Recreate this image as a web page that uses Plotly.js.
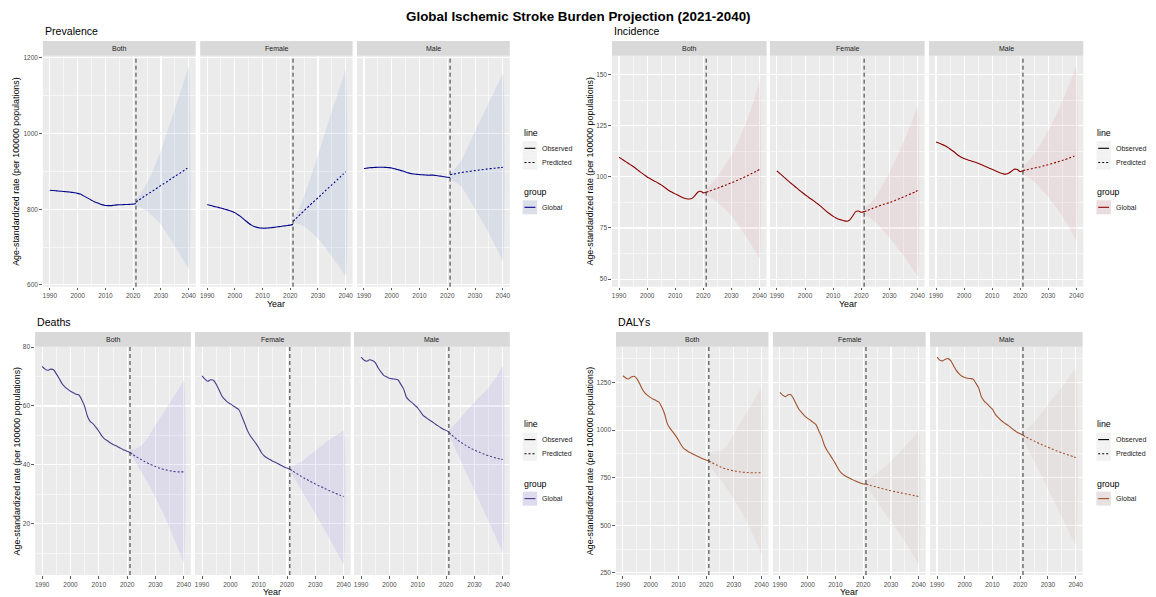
<!DOCTYPE html>
<html><head><meta charset="utf-8">
<script src="https://cdn.plot.ly/plotly-3.0.1.min.js"></script>
<style>html,body{margin:0;padding:0;background:#fff;}#chart{width:1156px;height:597px;}</style>
</head><body><div id="chart"></div>
<script>
// ---------- data ----------
const mainTitle = 'Global Ischemic Stroke Burden Projection (2021-2040)';
const yAxisTitle = 'Age-standardized rate (per 100000 populations)';
const xAxisTitle = 'Year';
const facets = ['Both', 'Female', 'Male'];
const measures = ['Prevalence', 'Incidence', 'Deaths', 'DALYs'];
const lineLabels = ['Observed', 'Predicted'];
const groupLabel = 'Global';
const forecastStart = 2021;
const yearsObs = [1990,1991,1992,1993,1994,1995,1996,1997,1998,1999,2000,2001,2002,2003,2004,2005,2006,2007,2008,2009,2010,2011,2012,2013,2014,2015,2016,2017,2018,2019,2020,2021];
const yearsPred = [2021,2022,2023,2024,2025,2026,2027,2028,2029,2030,2031,2032,2033,2034,2035,2036,2037,2038,2039,2040];

// Prevalence
const prevBothObs = [850,849.5,849,848,847.5,847,846,845.5,844.5,843.5,842,840,836,832,828,824,820,817,814,811.5,810,809.5,809.5,810.5,811.5,812,812,812.5,812.5,813,813.5,815];
const prevBothPred = [819,824,829,834,839,843.5,848,853,858,863,867.5,872,877,882,887,891.5,896,901,906,911];
const prevBothHi = [828,836,845,856,869,884,901,919,937,956,978,1000,1022,1044,1066,1088,1110,1132,1155,1178];
const prevBothLo = [808,806,803,799,795,789,782,775,767,758,748,737,726,714,702,690,678,666,654,642];
const prevFemObs = [812,810.5,808.5,806.5,805,803,801,799,796.5,794,791,786,781,775,769,763,758,754.5,752,750.5,750,750,750.5,751,752,753,754,755,756,757,758,760];
const prevFemPred = [768,775,782,789,796,803,810,817,823.5,830,837,844,851,858,864.5,871,878,885,892,899];
const prevFemHi = [775,786,799,815,835,856,877,898,920,943,966,989,1012,1035,1058,1080,1102,1125,1147,1170];
const prevFemLo = [763,762,760,758,754,749,743,736,729,722,714,705,695,685,675,665,655,645,634,623];
const prevMaleObs = [907.5,908.5,909.5,910,910.5,911,911,911,910.5,910,909,907,905,903,901,898.5,896,894,893,892,891.5,891,890.5,890,890,890,889,888,887,886,884.5,884];
const prevMalePred = [891,892.5,894,895.5,897,898,899,900,901,902,903,904,905,906,906.8,907.6,908.4,909.2,910.1,911];
const prevMaleHi = [895,901,909,918,928,943,958,974,990,1007,1022,1037,1052,1067,1082,1097,1112,1128,1143,1159];
const prevMaleLo = [880,876,871,866,860,850,838,826,813,800,788,775,762,749,736,722,707,692,678,663];

// Incidence
const incBothObs = [109.6,108.7,107.8,106.9,106.0,105.1,104.1,103.0,102.0,101.0,100.0,99.2,98.4,97.7,96.9,96.1,95.1,94.1,93.1,92.4,91.7,91.0,90.3,89.7,89.3,89.2,89.5,90.8,92.5,93.0,92.2,92.5];
const incBothPred = [92.5,93.0,93.5,94.0,94.5,95.0,95.5,96.0,96.6,97.1,97.7,98.3,98.9,99.5,100.1,100.8,101.5,102.2,102.9,103.7];
const incBothHi = [94.5,95.5,96.8,98.3,100.0,102.0,104.1,106.3,108.4,110.5,113.4,116.4,119.5,122.7,126.0,129.6,133.5,137.7,142.5,147.5];
const incBothLo = [90.8,90.2,89.4,88.6,87.6,86.4,85.1,83.8,82.4,81.0,79.2,77.2,75.2,73.2,71.2,69.0,66.8,64.6,62.4,60.1];
const incFemObs = [102.9,101.7,100.5,99.3,98.1,96.9,95.8,94.6,93.5,92.4,91.3,90.3,89.3,88.4,87.3,86.3,85.1,83.9,82.7,81.7,80.7,79.9,79.3,78.9,78.5,78.3,79.1,81.0,83.0,83.3,82.7,83.0];
const incFemPred = [83.0,83.5,84.0,84.6,85.1,85.6,86.1,86.6,87.0,87.4,88.0,88.5,89.1,89.6,90.2,90.8,91.4,92.0,92.6,93.3];
const incFemHi = [84.3,85.5,86.9,88.4,90.0,92.2,94.6,97.0,99.6,102.3,105.1,107.9,110.8,113.9,117.0,120.3,123.8,127.3,130.9,134.6];
const incFemLo = [81.9,81.0,80.0,78.9,77.8,76.4,74.9,73.4,71.9,70.4,68.6,66.8,65.0,63.2,61.4,59.4,57.5,55.5,53.5,51.4];
const incMaleObs = [117.1,116.6,116.0,115.4,114.6,113.7,112.7,111.6,110.5,109.6,109.0,108.5,108.0,107.6,107.2,106.7,106.1,105.5,104.9,104.3,103.7,103.1,102.5,101.9,101.5,101.4,101.9,102.9,103.8,103.6,102.6,103.0];
const incMalePred = [103.1,103.4,103.7,104.0,104.3,104.6,104.9,105.3,105.6,106.0,106.4,106.8,107.2,107.6,108.0,108.5,109.0,109.5,110.0,110.6];
const incMaleHi = [105.0,106.3,107.8,109.5,111.3,113.4,115.6,117.9,120.3,122.8,125.4,128.1,130.9,133.9,137.0,140.3,143.7,147.1,150.6,154.2];
const incMaleLo = [101.3,100.5,99.6,98.6,97.5,96.2,94.8,93.3,91.8,90.2,88.5,86.7,84.8,82.8,80.8,78.7,76.6,74.0,71.3,68.5];

// Deaths
const deathBothObs = [73.4,72.5,72.1,72.5,72.3,70.9,69.3,67.6,66.5,65.7,65.0,64.5,64.0,63.7,62.0,59.8,56.4,54.7,53.9,52.7,51.4,49.9,48.8,48.2,47.5,46.9,46.5,46.0,45.5,45.0,44.6,44.2];
const deathBothPred = [44.2,43.5,42.9,42.3,41.8,41.2,40.7,40.2,39.8,39.4,39.0,38.7,38.4,38.2,38.0,37.8,37.7,37.6,37.6,37.6];
const deathBothHi = [45.3,45.3,45.5,45.9,46.6,47.6,48.8,50.2,51.8,53.5,55.0,56.5,58.0,59.5,61.0,62.5,64.0,65.5,67.1,68.7];
const deathBothLo = [43.5,42.2,40.8,39.2,37.5,35.9,34.3,32.6,30.8,29.0,27.0,25.0,23.0,20.8,18.5,16.2,13.9,11.5,9.0,6.6];
const deathFemObs = [70.2,69.1,68.4,68.9,68.7,67.4,65.4,63.4,62.2,61.3,60.7,60.0,59.4,58.7,56.6,54.2,51.7,49.9,48.6,47.3,45.8,44.1,43.0,42.3,41.8,41.2,40.8,40.3,39.8,39.3,38.9,38.5];
const deathFemPred = [38.5,37.9,37.3,36.7,36.1,35.5,35.0,34.5,34.0,33.5,33.0,32.6,32.1,31.7,31.2,30.8,30.4,30.0,29.6,29.2];
const deathFemHi = [39.1,39.5,40.0,40.5,41.0,41.7,42.5,43.3,44.0,44.8,45.6,46.3,47.0,47.8,48.5,49.2,49.8,50.4,51.0,51.7];
const deathFemLo = [38.0,36.4,34.8,33.2,31.5,29.9,28.3,26.7,25.1,23.5,21.8,20.1,18.4,16.7,15.0,13.3,11.5,9.7,7.9,6.1];
const deathMaleObs = [76.6,75.6,75.2,75.7,75.4,74.7,73.0,71.6,70.4,69.9,69.4,69.2,69.1,68.9,67.4,65.8,63.0,61.9,61.1,60.2,59.3,58.0,56.7,56.0,55.3,54.7,54.0,53.3,52.7,52.1,51.7,51.1];
const deathMalePred = [51.0,50.1,49.3,48.5,47.8,47.2,46.6,46.0,45.5,45.0,44.6,44.2,43.8,43.4,43.1,42.8,42.5,42.2,42.0,41.8];
const deathMaleHi = [51.9,52.7,53.6,54.6,55.8,56.9,58.0,59.1,60.2,61.3,62.3,63.2,64.2,65.2,66.2,67.5,68.8,70.2,71.9,73.6];
const deathMaleLo = [50.2,48.1,46.0,43.9,41.8,39.7,37.6,35.5,33.4,31.3,29.2,27.1,25.0,22.9,20.8,18.7,16.6,14.5,12.4,10.2];

// DALYs
const dalyBothObs = [1286,1274,1269,1279,1283,1271,1245,1215,1195,1181,1171,1162,1155,1147,1121,1086,1034,1009,991,971,948,922,903,893,883,876,869,862,855,848,843,838];
const dalyBothPred = [838,830,822,815,808,802,797,793,789,786,783,781,779,778,777,776,776,776,776,777];
const dalyBothHi = [885,885,886,887,890,897,910,930,955,983,1007,1031,1055,1079,1103,1127,1151,1175,1200,1224];
const dalyBothLo = [819,800,781,762,743,724,703,682,660,638,613,588,562,536,509,478,446,413,379,345];
const dalyFemObs = [1198,1184,1176,1186,1186,1164,1134,1107,1090,1074,1062,1052,1041,1029,997,966,922,893,871,848,824,797,776,764,755,748,741,734,728,722,717,716];
const dalyFemPred = [716,712,708,704,700,696,692,688,685,681,678,675,672,669,666,663,660,657,654,651];
const dalyFemHi = [741,748,756,765,776,787,799,811,823,836,851,866,882,898,914,930,946,963,980,997];
const dalyFemLo = [707,686,665,644,623,602,581,560,539,517,497,477,456,435,414,391,367,342,318,293];
const dalyMaleObs = [1384,1368,1364,1373,1376,1364,1337,1313,1296,1283,1277,1273,1271,1268,1247,1222,1175,1153,1139,1124,1110,1084,1067,1053,1041,1031,1021,1009,998,988,981,973];
const dalyMalePred = [973,965,957,950,943,936,929,922,916,910,904,898,892,887,881,876,871,866,861,856];
const dalyMaleHi = [990,1000,1012,1026,1042,1059,1077,1096,1115,1135,1153,1171,1189,1207,1225,1245,1265,1285,1305,1325];
const dalyMaleLo = [955,926,897,868,839,810,781,752,722,692,662,632,602,572,542,512,482,452,424,397];

// ---------- assembly ----------
const panels = [
  {name: measures[0], line: '#00008B', fill: 'rgba(100,130,190,0.13)', keyFill: 'rgba(100,130,190,0.17)', dtick: 200,
   data: {Both: {obs: prevBothObs, pred: prevBothPred, lo: prevBothLo, hi: prevBothHi},
          Female: {obs: prevFemObs, pred: prevFemPred, lo: prevFemLo, hi: prevFemHi},
          Male: {obs: prevMaleObs, pred: prevMalePred, lo: prevMaleLo, hi: prevMaleHi}}},
  {name: measures[1], line: '#8B0000', fill: 'rgba(200,100,110,0.10)', keyFill: 'rgba(200,100,110,0.14)', dtick: 25,
   data: {Both: {obs: incBothObs, pred: incBothPred, lo: incBothLo, hi: incBothHi},
          Female: {obs: incFemObs, pred: incFemPred, lo: incFemLo, hi: incFemHi},
          Male: {obs: incMaleObs, pred: incMalePred, lo: incMaleLo, hi: incMaleHi}}},
  {name: measures[2], line: '#483D8B', fill: 'rgba(120,100,220,0.12)', keyFill: 'rgba(120,100,220,0.16)', dtick: 20,
   data: {Both: {obs: deathBothObs, pred: deathBothPred, lo: deathBothLo, hi: deathBothHi},
          Female: {obs: deathFemObs, pred: deathFemPred, lo: deathFemLo, hi: deathFemHi},
          Male: {obs: deathMaleObs, pred: deathMalePred, lo: deathMaleLo, hi: deathMaleHi}}},
  {name: measures[3], line: '#A0522D', fill: 'rgba(160,110,100,0.08)', keyFill: 'rgba(160,110,100,0.12)', dtick: 250,
   data: {Both: {obs: dalyBothObs, pred: dalyBothPred, lo: dalyBothLo, hi: dalyBothHi},
          Female: {obs: dalyFemObs, pred: dalyFemPred, lo: dalyFemLo, hi: dalyFemHi},
          Male: {obs: dalyMaleObs, pred: dalyMalePred, lo: dalyMaleLo, hi: dalyMaleHi}}}
];

// layout geometry (pixels)
const W = 1156, H = 597;
const px = x => x / W;
const py = y => 1 - y / H;
const geom = [
  {fx: [[42.9,195.7],[200.2,352.6],[357.0,509.8]], y0: 55.7, y1: 286.7, s0: 41.0, tX: 42.9, tY: 31.3, ytX: 16.6, legX: 522.7, legY: 132.7, xtY: 304},
  {fx: [[612.0,766.6],[769.9,924.6],[929.0,1083.3]], y0: 55.7, y1: 286.7, s0: 41.0, tX: 612.3, tY: 31.3, ytX: 590.3, legX: 1096.4, legY: 132.7, xtY: 304},
  {fx: [[35.1,190.9],[195.0,350.7],[354.0,509.8]], y0: 346.7, y1: 575.0, s0: 332.0, tX: 35.1, tY: 322.3, ytX: 16.6, legX: 522.7, legY: 424.0, xtY: 591.5},
  {fx: [[616.0,768.5],[772.9,925.7],[930.1,1082.6]], y0: 346.7, y1: 575.0, s0: 332.0, tX: 616.0, tY: 322.3, ytX: 590.3, legX: 1096.4, legY: 424.0, xtY: 591.5}
];

const FONT = 'Liberation Sans, Arial, Helvetica, sans-serif';
const traces = [], shapes = [], annotations = [];
const layout = {
  width: W, height: H, margin: {l: 0, r: 0, t: 0, b: 0},
  paper_bgcolor: '#FFFFFF', plot_bgcolor: '#EBEBEB', showlegend: false,
  font: {family: FONT, color: '#1A1A1A'}
};

function txt(text, x, y, size, opts) {
  annotations.push(Object.assign({text: text, xref: 'paper', yref: 'paper', x: px(x), y: py(y),
    showarrow: false, xanchor: 'left', yanchor: 'middle', font: {family: FONT, size: size, color: '#1A1A1A'}}, opts || {}));
}
function rect(x0, x1, y0, y1, fill) {
  shapes.push({type: 'rect', xref: 'paper', yref: 'paper', x0: px(x0), x1: px(x1), y0: py(y1), y1: py(y0),
    fillcolor: fill, line: {width: 0}, layer: 'above'});
}
function hline(x0, x1, y, color, dash) {
  shapes.push({type: 'line', xref: 'paper', yref: 'paper', x0: px(x0), x1: px(x1), y0: py(y), y1: py(y),
    line: {color: color, width: 1.1, dash: dash}, layer: 'above'});
}

let n = 0;
panels.forEach((p, pi) => {
  const g = geom[pi];
  let all = [];
  facets.forEach(f => { const d = p.data[f]; all = all.concat(d.obs, d.pred, d.lo, d.hi); });
  const mn = Math.min(...all), mx = Math.max(...all), pad = (mx - mn) * 0.05;
  const yr = [mn - pad, mx + pad];

  facets.forEach((f, fi) => {
    n++;
    const xa = n === 1 ? 'x' : 'x' + n, ya = n === 1 ? 'y' : 'y' + n;
    const xk = n === 1 ? 'xaxis' : 'xaxis' + n, yk = n === 1 ? 'yaxis' : 'yaxis' + n;
    const [x0, x1] = g.fx[fi];
    layout[xk] = {
      domain: [px(x0), px(x1)], anchor: ya, range: [1987.5, 2042.5],
      tickmode: 'linear', tick0: 1990, dtick: 10,
      ticks: 'outside', ticklen: 2.7, tickwidth: 0.8, tickcolor: '#333333',
      tickfont: {family: FONT, size: 6.5, color: '#4D4D4D'},
      showgrid: true, gridcolor: '#FFFFFF', gridwidth: 1.1,
      minor: {tick0: 1990, dtick: 5, showgrid: true, gridcolor: '#FFFFFF', gridwidth: 0.55, ticks: ''},
      zeroline: false, showline: false, fixedrange: true
    };
    layout[yk] = {
      domain: [py(g.y1), py(g.y0)], anchor: xa, range: yr,
      tickmode: 'linear', tick0: 0, dtick: p.dtick,
      ticks: fi === 0 ? 'outside' : '', ticklen: 2.7, tickwidth: 0.8, tickcolor: '#333333',
      showticklabels: fi === 0,
      tickfont: {family: FONT, size: 6.5, color: '#4D4D4D'},
      showgrid: true, gridcolor: '#FFFFFF', gridwidth: 1.1,
      minor: {tick0: 0, dtick: p.dtick / 2, showgrid: true, gridcolor: '#FFFFFF', gridwidth: 0.55, ticks: ''},
      zeroline: false, showline: false, fixedrange: true
    };
    const d = p.data[f];
    traces.push({type: 'scatter', mode: 'lines', xaxis: xa, yaxis: ya,
      x: yearsPred.concat(yearsPred.slice().reverse()), y: d.hi.concat(d.lo.slice().reverse()),
      fill: 'toself', fillcolor: p.fill, line: {width: 0, color: 'rgba(0,0,0,0)', shape: 'spline', smoothing: 0.6},
      hoverinfo: 'skip'});
    traces.push({type: 'scatter', mode: 'lines', xaxis: xa, yaxis: ya, x: yearsObs, y: d.obs,
      name: lineLabels[0], line: {color: p.line, width: 1.1, shape: 'spline', smoothing: 0.6}});
    traces.push({type: 'scatter', mode: 'lines', xaxis: xa, yaxis: ya, x: yearsPred, y: d.pred,
      name: lineLabels[1], line: {color: p.line, width: 1.1, dash: '2px,2px', shape: 'spline', smoothing: 0.6}});
    shapes.push({type: 'line', xref: xa, yref: ya + ' domain', x0: forecastStart, x1: forecastStart, y0: 0, y1: 1,
      line: {color: '#333333', width: 1, dash: '4px,3px'}});
    // facet strip
    rect(x0, x1, g.s0, g.y0, '#D9D9D9');
    txt(f, (x0 + x1) / 2, (g.s0 + g.y0) / 2, 7, {xanchor: 'center'});
  });

  // panel title, axis titles
  txt(p.name, g.tX, g.tY, 10.6, {font: {family: FONT, size: 10.6, color: '#000000'}});
  txt(yAxisTitle, g.ytX, (g.y0 + g.y1) / 2, 8.9, {xanchor: 'center', textangle: -90, font: {family: FONT, size: 8.9, color: '#000000'}});
  txt(xAxisTitle, (g.fx[0][0] + g.fx[2][1]) / 2, g.xtY, 8.9, {xanchor: 'center', font: {family: FONT, size: 8.9, color: '#000000'}});

  // legends
  const L = g.legX, T = g.legY;
  txt('line', L - 1, T, 8.8, {font: {family: FONT, size: 8.8, color: '#000000'}});
  rect(L, L + 14.5, T + 8.5, T + 22.7, '#F2F2F2');
  rect(L, L + 14.5, T + 22.7, T + 36.9, '#F2F2F2');
  hline(L + 1.8, L + 12.7, T + 15.6, '#000000', 'solid');
  hline(L + 1.8, L + 12.7, T + 29.8, '#000000', '2px,2px');
  txt(lineLabels[0], L + 17.6, T + 15.6, 7);
  txt(lineLabels[1], L + 17.6, T + 29.8, 7);
  txt('group', L - 1, T + 59.6, 8.8, {font: {family: FONT, size: 8.8, color: '#000000'}});
  rect(L, L + 14.5, T + 67.6, T + 81.6, '#F2F2F2');
  rect(L, L + 14.5, T + 67.6, T + 81.6, p.keyFill);
  hline(L + 1.8, L + 12.7, T + 74.6, p.line, 'solid');
  txt(groupLabel, L + 17.6, T + 74.6, 7);
});

txt('<b>' + mainTitle + '</b>', 578, 16, 13.4, {xanchor: 'center', font: {family: FONT, size: 13.4, color: '#000000'}});

layout.shapes = shapes;
layout.annotations = annotations;
Plotly.newPlot('chart', traces, layout, {displayModeBar: false, staticPlot: true});
</script>
</body></html>
